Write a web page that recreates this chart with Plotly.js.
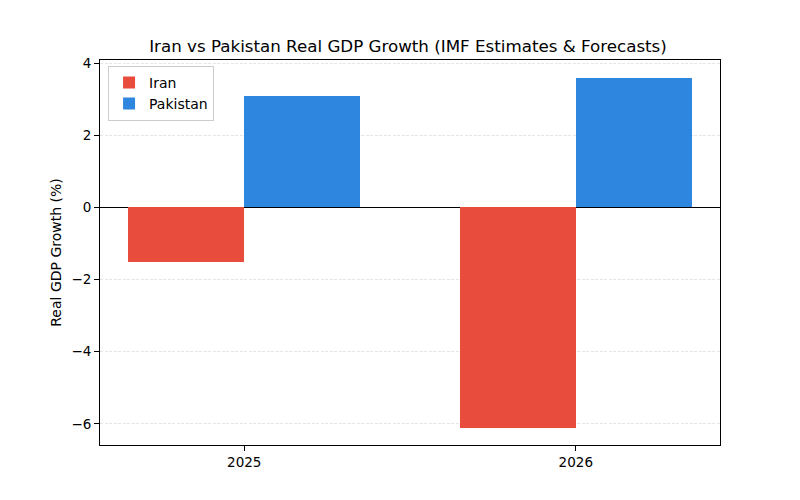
<!DOCTYPE html>
<html>
<head>
<meta charset="utf-8">
<script src="https://cdn.plot.ly/plotly-3.0.1.min.js"></script>
<style>html,body{margin:0;padding:0;background:#fff;}#chart{width:800px;height:500px;}</style>
</head>
<body>
<div id="chart"></div>
<script>
// Real GDP growth, IMF estimates and forecasts (%)
const years = ['2025', '2026'];
const iran = [-1.5, -6.1];
const pakistan = [3.1, 3.6];

const pos = years.map((_, i) => i);
const barWidth = 0.35;
const font = 'DejaVu Sans, Arial, sans-serif';

const traces = [
  {
    type: 'bar', name: 'Iran', x: pos, y: iran,
    width: barWidth, offset: -barWidth,
    marker: {color: '#e74c3c', line: {width: 0}},
    hoverinfo: 'y'
  },
  {
    type: 'bar', name: 'Pakistan', x: pos, y: pakistan,
    width: barWidth, offset: 0,
    marker: {color: '#2e86de', line: {width: 0}},
    hoverinfo: 'y'
  }
];

const layout = {
  width: 800, height: 500,
  margin: {l: 100, r: 80, t: 60, b: 55},
  paper_bgcolor: '#fff', plot_bgcolor: '#fff',
  font: {family: font, size: 13.5, color: '#000'},
  title: {text: 'Iran vs Pakistan Real GDP Growth (IMF Estimates & Forecasts)',
          font: {family: font, size: 16.7, color: '#000'},
          x: 0.51, xanchor: 'center', y: 0.907, yanchor: 'middle'},
  showlegend: true,
  legend: {x: 0.013, y: 0.985, xanchor: 'left', yanchor: 'top',
           bgcolor: 'rgba(255,255,255,0.8)', bordercolor: '#cccccc', borderwidth: 1,
           font: {family: font, size: 14}, traceorder: 'normal', tracegroupgap: 0},
  xaxis: {
    range: [-0.435, 1.435], tickmode: 'array', tickvals: pos, ticktext: years,
    showgrid: false, zeroline: false,
    showline: true, linecolor: '#000', linewidth: 1, mirror: true,
    ticks: 'outside', ticklen: 5, tickcolor: '#000',
    tickfont: {family: font, size: 13.5}
  },
  yaxis: {
    range: [-6.585, 4.085], tickvals: [-6, -4, -2, 0, 2, 4],
    showgrid: true, gridcolor: '#e0e0e0', griddash: '3px,1.5px', gridwidth: 0.8,
    zeroline: true, zerolinecolor: '#000', zerolinewidth: 1,
    showline: true, linecolor: '#000', linewidth: 1, mirror: true,
    ticks: 'outside', ticklen: 5, tickcolor: '#000',
    tickfont: {family: font, size: 13.5},
    title: {text: 'Real GDP Growth (%)', font: {family: font, size: 14}, standoff: 6}
  },
  bargap: 0
};

Plotly.newPlot('chart', traces, layout, {displayModeBar: false, staticPlot: true});
</script>
</body>
</html>
